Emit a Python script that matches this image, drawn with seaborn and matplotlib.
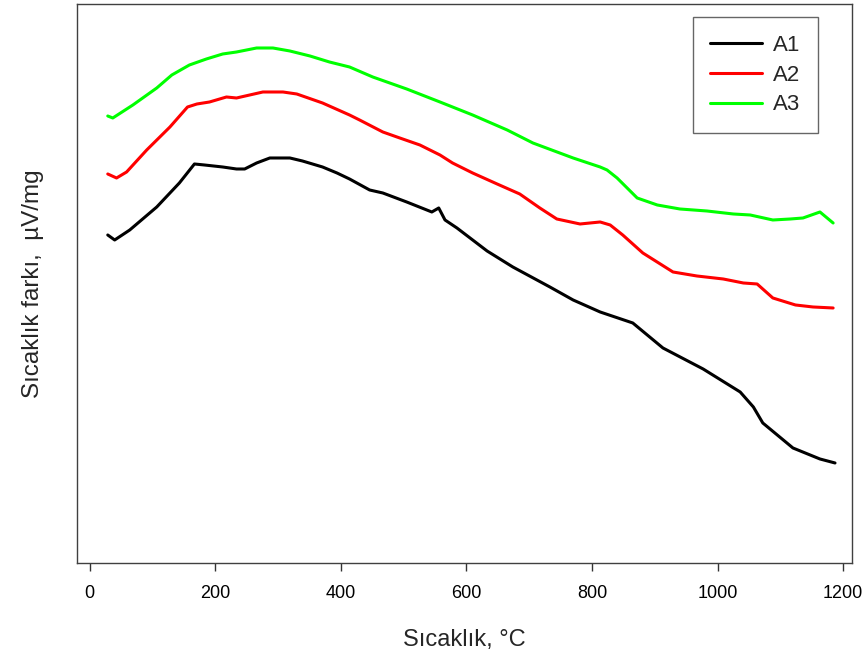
import pandas
import seaborn
import matplotlib.pyplot as plt

# DTA curves (y is arbitrary, no tick labels in source)
temp_a1 = [29, 40, 64, 107, 143, 167, 183, 212, 234, 247, 266, 287, 319, 339, 371,
           394, 414, 446, 467, 505, 545, 556, 566, 585, 633, 674, 733, 770, 813,
           865, 913, 977, 1036, 1057, 1072, 1120, 1163, 1187]
sig_a1 = [3.28, 3.23, 3.33, 3.56, 3.80, 3.99, 3.98, 3.96, 3.94, 3.94, 4.00, 4.05,
          4.05, 4.02, 3.96, 3.90, 3.84, 3.73, 3.70, 3.61, 3.51, 3.55, 3.43, 3.35,
          3.12, 2.96, 2.76, 2.63, 2.51, 2.40, 2.15, 1.94, 1.71, 1.56, 1.40, 1.15,
          1.04, 1.00]

temp_a2 = [29, 43, 59, 91, 128, 156, 171, 191, 218, 234, 255, 276, 308, 330, 371,
           414, 430, 467, 494, 526, 558, 578, 610, 649, 685, 717, 744, 781, 813,
           829, 849, 881, 929, 967, 1009, 1041, 1063, 1088, 1124, 1152, 1184]
sig_a2 = [3.89, 3.85, 3.91, 4.13, 4.36, 4.56, 4.59, 4.61, 4.66, 4.65, 4.68, 4.71,
          4.71, 4.69, 4.60, 4.48, 4.43, 4.31, 4.25, 4.18, 4.08, 4.00, 3.90, 3.79,
          3.69, 3.55, 3.44, 3.39, 3.41, 3.38, 3.28, 3.10, 2.91, 2.87, 2.84, 2.80,
          2.79, 2.65, 2.58, 2.56, 2.55]

temp_a3 = [29, 37, 69, 107, 131, 159, 186, 212, 234, 266, 292, 319, 351, 382, 414,
           451, 505, 558, 610, 665, 706, 770, 813, 824, 840, 872, 904, 940, 983,
           1025, 1052, 1088, 1116, 1136, 1163, 1184]
sig_a3 = [4.47, 4.45, 4.58, 4.75, 4.88, 4.98, 5.04, 5.09, 5.11, 5.15, 5.15, 5.12,
          5.07, 5.01, 4.96, 4.86, 4.74, 4.61, 4.48, 4.33, 4.20, 4.05, 3.96, 3.93,
          3.85, 3.65, 3.58, 3.54, 3.52, 3.49, 3.48, 3.43, 3.44, 3.45, 3.51, 3.40]

samples = ["A1", "A2", "A3"]
colors = ["#000000", "#ff0000", "#00ff00"]
x_ticks = [0, 200, 400, 600, 800, 1000, 1200]

df = pandas.concat(
    [
        pandas.DataFrame({"temp": t, "signal": s, "sample": name})
        for t, s, name in zip(
            [temp_a1, temp_a2, temp_a3], [sig_a1, sig_a2, sig_a3], samples
        )
    ],
    ignore_index=True,
)

seaborn.set_style("ticks")
plt.rcParams["font.family"] = ["Liberation Sans", "DejaVu Sans"]

fig = plt.figure(figsize=(8.66, 6.55), dpi=100)
ax = fig.add_axes([0.0889, 0.1405, 0.8949, 0.8534])

seaborn.lineplot(
    data=df,
    x="temp",
    y="signal",
    hue="sample",
    hue_order=samples,
    palette=colors,
    linewidth=2.2,
    sort=False,
    estimator=None,
    ax=ax,
)

ax.set_xlim(-20, 1214)
ax.set_ylim(0, 5.59)
ax.set_xticks(x_ticks)
ax.set_yticks([])
ax.tick_params(axis="x", direction="out", length=6, width=1, colors="#333333",
               labelsize=13, pad=10, labelcolor="black")
for side in ["left", "right", "top", "bottom"]:
    ax.spines[side].set_visible(True)
    ax.spines[side].set_color("#404040")
    ax.spines[side].set_linewidth(1)

ax.set_xlabel("Sıcaklık, °C", fontsize=17, labelpad=19)
ax.set_ylabel("Sıcaklık farkı,  µV/mg", fontsize=17.5, labelpad=24)

leg = ax.legend(
    loc="upper right",
    bbox_to_anchor=(0.956, 0.977),
    fontsize=16,
    frameon=True,
    fancybox=False,
    edgecolor="#404040",
    handlelength=2.3,
    handletextpad=0.5,
    labelspacing=0.4,
    borderpad=0.8,
    borderaxespad=0,
    title=None,
)
leg.get_frame().set_linewidth(1)

plt.savefig("out.png", dpi=100)
plt.close()
